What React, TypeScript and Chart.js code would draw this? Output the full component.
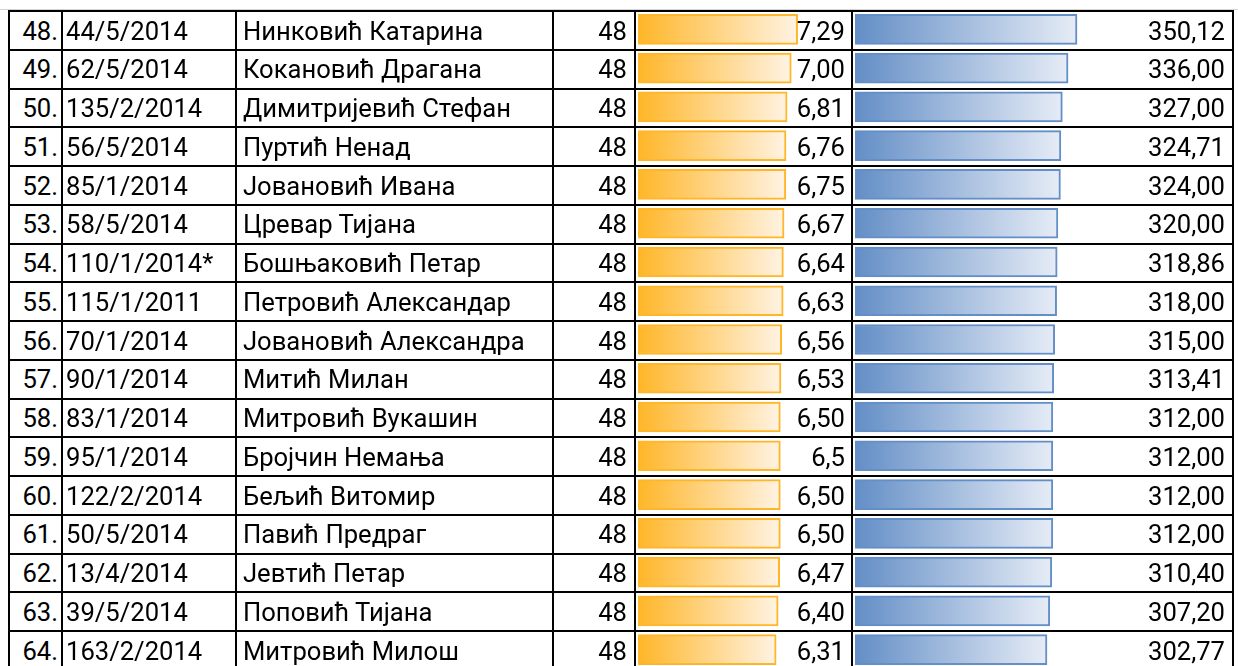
import React, { useEffect, useRef } from "react";
import { Chart, registerables } from "chart.js";

Chart.register(...registerables);

// ---------- data ----------
const ranks = ["48.", "49.", "50.", "51.", "52.", "53.", "54.", "55.", "56.", "57.", "58.", "59.", "60.", "61.", "62.", "63.", "64."];
const indexNumbers = [
  "44/5/2014", "62/5/2014", "135/2/2014", "56/5/2014", "85/1/2014", "58/5/2014", "110/1/2014*",
  "115/1/2011", "70/1/2014", "90/1/2014", "83/1/2014", "95/1/2014", "122/2/2014", "50/5/2014",
  "13/4/2014", "39/5/2014", "163/2/2014",
];
const names = [
  "Нинковић Катарина", "Кокановић Драгана", "Димитријевић Стефан", "Пуртић Ненад", "Јовановић Ивана",
  "Цревар Тијана", "Бошњаковић Петар", "Петровић Александар", "Јовановић Александра", "Митић Милан",
  "Митровић Вукашин", "Бројчин Немања", "Бељић Витомир", "Павић Предраг", "Јевтић Петар",
  "Поповић Тијана", "Митровић Милош",
];
const credits = [48, 48, 48, 48, 48, 48, 48, 48, 48, 48, 48, 48, 48, 48, 48, 48, 48];
const grades = [7.29, 7.0, 6.81, 6.76, 6.75, 6.67, 6.64, 6.63, 6.56, 6.53, 6.5, 6.5, 6.5, 6.5, 6.47, 6.4, 6.31];
const gradeLabels = ["7,29", "7,00", "6,81", "6,76", "6,75", "6,67", "6,64", "6,63", "6,56", "6,53", "6,50", "6,5", "6,50", "6,50", "6,47", "6,40", "6,31"];
const points = [350.12, 336.0, 327.0, 324.71, 324.0, 320.0, 318.86, 318.0, 315.0, 313.41, 312.0, 312.0, 312.0, 312.0, 310.4, 307.2, 302.77];
const pointLabels = ["350,12", "336,00", "327,00", "324,71", "324,00", "320,00", "318,86", "318,00", "315,00", "313,41", "312,00", "312,00", "312,00", "312,00", "310,40", "307,20", "302,77"];

const GRADE_AXIS_MAX = 9.59;
const POINTS_AXIS_MAX = 593;

// ---------- layout ----------
const ROW_TOP = 10;
const ROW_H = 38.75;
const N = ranks.length;
const LINE_X = [8, 61, 235, 552, 634, 851, 1232];
const FONT = "Roboto, 'Noto Sans', sans-serif";
const FONT_SIZE = 25.6;

function BarColumn(props: { values: number[]; max: number; left: number; width: number; solid: string; light: string }) {
  const ref = useRef<HTMLCanvasElement>(null);
  const { values, max, left, width, solid, light } = props;
  const height = Math.round(N * ROW_H);
  useEffect(() => {
    const chart = new Chart(ref.current as HTMLCanvasElement, {
      type: "bar",
      data: {
        labels: values.map((_, i) => String(i)),
        datasets: [
          {
            data: values,
            backgroundColor: (c: any) => {
              const ch = c.chart;
              if (!ch.chartArea || c.raw === undefined) return solid;
              const xs = ch.scales.x;
              const x0 = xs.getPixelForValue(0);
              const x1 = xs.getPixelForValue(c.raw);
              const g = ch.ctx.createLinearGradient(x0, 0, x1, 0);
              g.addColorStop(0, solid);
              g.addColorStop(1, light);
              return g;
            },
            borderColor: solid,
            borderWidth: 2,
            borderSkipped: false,
            barThickness: 30,
          },
        ],
      },
      options: {
        indexAxis: "y",
        animation: false,
        responsive: false,
        maintainAspectRatio: false,
        events: [],
        layout: { padding: 0 },
        plugins: { legend: { display: false }, tooltip: { enabled: false } },
        scales: {
          x: { type: "linear", min: 0, max, display: false },
          y: { display: false, offset: true },
        },
      },
    });
    return () => chart.destroy();
  }, []);
  return (
    <canvas
      ref={ref}
      width={width}
      height={height}
      style={{ position: "absolute", left, top: ROW_TOP, width, height }}
    />
  );
}

function Cell(props: { row: number; x: number; align: "left" | "right"; text: string }) {
  const { row, x, align, text } = props;
  const top = ROW_TOP + row * ROW_H;
  const style: React.CSSProperties = {
    position: "absolute",
    top: top + 2.5,
    height: ROW_H - 2,
    lineHeight: `${ROW_H - 2}px`,
    fontFamily: FONT,
    fontSize: FONT_SIZE,
    color: "#000",
    whiteSpace: "nowrap",
    zIndex: 2,
  };
  if (align === "left") style.left = x;
  else style.right = 1238 - x;
  return <div style={style}>{text}</div>;
}

export default function App() {
  useEffect(() => {
    document.body.style.margin = "0";
    document.body.style.overflow = "hidden";
  }, []);
  const rows = ranks.map((_, i) => i);
  return (
    <div style={{ position: "fixed", left: 0, top: 0, width: 1238, height: 666, overflow: "hidden", background: "#fff" }}>
      <div style={{ position: "absolute", left: 0, top: 9, width: 1238, height: 1, background: "#d4d4d4" }} />
      <BarColumn values={grades} max={GRADE_AXIS_MAX} left={638} width={210} solid="#FFB628" light="#FFF3E3" />
      <BarColumn values={points} max={POINTS_AXIS_MAX} left={855} width={376} solid="#638EC6" light="#E6ECF6" />
      {rows.map((i) => (
        <div key={"h" + i} style={{ position: "absolute", left: LINE_X[0], width: LINE_X[LINE_X.length - 1] + 2 - LINE_X[0], top: Math.round(ROW_TOP + i * ROW_H), height: 2, background: "#000", zIndex: 3 }} />
      ))}
      {LINE_X.map((x, j) => (
        <div key={"v" + j} style={{ position: "absolute", left: x, width: 2, top: ROW_TOP, height: 666, background: "#000", zIndex: 3 }} />
      ))}
      {rows.map((i) => (
        <React.Fragment key={"r" + i}>
          <Cell row={i} x={58} align="right" text={ranks[i]} />
          <Cell row={i} x={66} align="left" text={indexNumbers[i]} />
          <Cell row={i} x={243} align="left" text={names[i]} />
          <Cell row={i} x={627} align="right" text={String(credits[i])} />
          <Cell row={i} x={845} align="right" text={gradeLabels[i]} />
          <Cell row={i} x={1225} align="right" text={pointLabels[i]} />
        </React.Fragment>
      ))}
    </div>
  );
}
